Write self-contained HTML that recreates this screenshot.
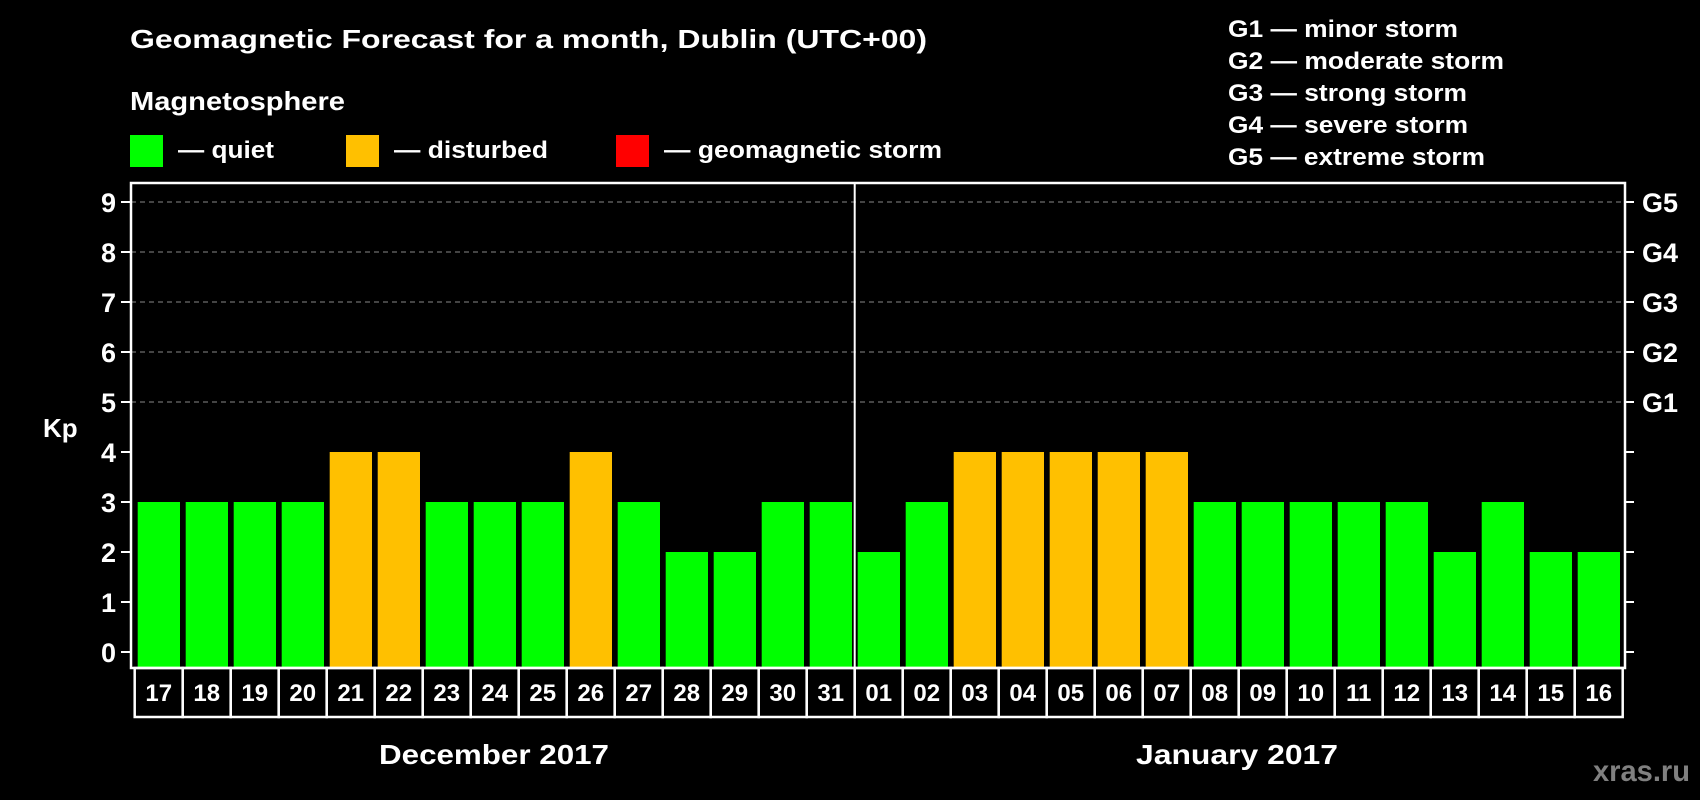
<!DOCTYPE html>
<html><head><meta charset="utf-8"><style>
html,body{margin:0;padding:0;background:#000;}
svg{display:block;font-family:"Liberation Sans",Arial,sans-serif;font-weight:bold;}
</style></head><body>
<svg id="chart" width="1700" height="800" viewBox="0 0 1700 800">
<rect x="0" y="0" width="1700" height="800" fill="#000"/>
<text x="130" y="48" font-size="26" fill="#fff" textLength="797" lengthAdjust="spacingAndGlyphs">Geomagnetic Forecast for a month, Dublin (UTC+00)</text>
<text x="130" y="110" font-size="26" fill="#fff" textLength="215" lengthAdjust="spacingAndGlyphs">Magnetosphere</text>
<g>
<rect x="130" y="135" width="33" height="32" fill="#00ff00"/>
<text x="178" y="158" font-size="24" fill="#fff" textLength="96" lengthAdjust="spacingAndGlyphs">— quiet</text>
</g>
<g>
<rect x="346" y="135" width="33" height="32" fill="#ffc000"/>
<text x="394" y="158" font-size="24" fill="#fff" textLength="154" lengthAdjust="spacingAndGlyphs">— disturbed</text>
</g>
<g>
<rect x="616" y="135" width="33" height="32" fill="#ff0000"/>
<text x="664" y="158" font-size="24" fill="#fff" textLength="278" lengthAdjust="spacingAndGlyphs">— geomagnetic storm</text>
</g>
<g font-size="24" fill="#fff">
<text x="1228" y="37" textLength="230" lengthAdjust="spacingAndGlyphs">G1 — minor storm</text>
<text x="1228" y="69" textLength="276" lengthAdjust="spacingAndGlyphs">G2 — moderate storm</text>
<text x="1228" y="101" textLength="239" lengthAdjust="spacingAndGlyphs">G3 — strong storm</text>
<text x="1228" y="133" textLength="240" lengthAdjust="spacingAndGlyphs">G4 — severe storm</text>
<text x="1228" y="165" textLength="257" lengthAdjust="spacingAndGlyphs">G5 — extreme storm</text>
</g>
<text x="43" y="437" font-size="26" fill="#fff">Kp</text>
<g id="plot"></g>
<text x="494" y="764" font-size="28" fill="#fff" text-anchor="middle" textLength="230" lengthAdjust="spacingAndGlyphs">December 2017</text>
<text x="1237" y="764" font-size="28" fill="#fff" text-anchor="middle" textLength="202" lengthAdjust="spacingAndGlyphs">January 2017</text>
<text x="1593" y="781" font-size="30" fill="#808080" textLength="97" lengthAdjust="spacingAndGlyphs">xras.ru</text>
</svg>
<script>
const days = ["17","18","19","20","21","22","23","24","25","26","27","28","29","30","31","01","02","03","04","05","06","07","08","09","10","11","12","13","14","15","16"];
const kpValues = [3,3,3,3,4,4,3,3,3,4,3,2,2,3,3,2,3,4,4,4,4,4,3,3,3,3,3,2,3,2,2];
const yTicks = [0,1,2,3,4,5,6,7,8,9];
const gLabels = ["G1","G2","G3","G4","G5"];
const gLevels = [5,6,7,8,9];

const NS = "http://www.w3.org/2000/svg";
const plot = document.getElementById("plot");
const PL = 131, PR = 1625, PT = 183, PB = 668;
const SL = 134.7, SW = 48;
function y(v){ return 652 - v * 50; }
function x(i){ return SL + i * SW; }
function mk(tag, attrs){
  const e = document.createElementNS(NS, tag);
  for (const k in attrs) e.setAttribute(k, attrs[k]);
  plot.appendChild(e);
  return e;
}
function color(v){ return v >= 5 ? "#ff0000" : (v >= 4 ? "#ffc000" : "#00ff00"); }

gLevels.forEach(function(v){
  const g = mk("line", {x1: PL, x2: PR, y1: y(v), y2: y(v), stroke: "#888", "stroke-width": 1, "stroke-dasharray": "5,4"});
  
  
});
yTicks.forEach(function(v){
  const t = mk("line", {x1: 121, x2: PL, y1: y(v), y2: y(v), stroke: "#fff", "stroke-width": 2});
  
  
  const r = mk("line", {x1: PR, x2: 1634, y1: y(v), y2: y(v), stroke: "#fff", "stroke-width": 2});
  
  
  const l = mk("text", {x: 116, y: y(v) + 10, "font-size": 27, fill: "#fff", "text-anchor": "end"});
  l.textContent = v;
  
  
});
gLabels.forEach(function(lbl, i){
  const t = mk("text", {x: 1642, y: y(gLevels[i]) + 10, "font-size": 27, fill: "#fff"});
  t.textContent = lbl;
  
  
});
kpValues.forEach(function(v, i){
  const b = mk("rect", {x: x(i) + 3, y: y(v), width: 42.3, height: PB - y(v), fill: color(v)});
  
  
  const c = mk("rect", {x: x(i), y: PB, width: SW, height: 49, fill: "none", stroke: "#fff", "stroke-width": 2.5});
  
  
  const t = mk("text", {x: x(i) + SW / 2, y: 701, "font-size": 24, fill: "#fff", "text-anchor": "middle"});
  t.textContent = days[i];
  
  
});
const frame = mk("rect", {x: PL, y: PT, width: PR - PL, height: PB - PT, fill: "none", stroke: "#fff", "stroke-width": 2.5});


const div = mk("line", {x1: x(15), x2: x(15), y1: PT, y2: PB, stroke: "#fff", "stroke-width": 2});


</script>
</body></html>
